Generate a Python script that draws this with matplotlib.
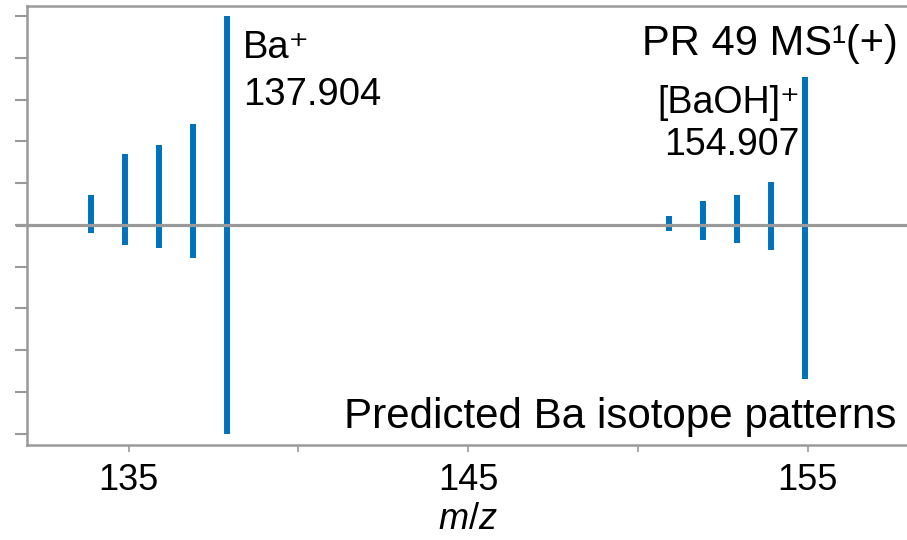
import matplotlib
matplotlib.use("Agg")
import matplotlib.pyplot as plt

plt.rcParams['font.family'] = ['Liberation Sans', 'DejaVu Sans']
plt.rcParams['mathtext.fontset'] = 'custom'
plt.rcParams['mathtext.rm'] = 'Liberation Sans'
plt.rcParams['mathtext.it'] = 'Liberation Sans:italic'
plt.rcParams['mathtext.bf'] = 'Liberation Sans:bold'

# Ba+ cluster: measured (up) and predicted (down, mirrored)
ba_mz = [133.905, 134.906, 135.905, 136.906, 137.905]
ba_meas = [14.4, 33.9, 38.2, 48.2, 100.0]
ba_pred = [3.7, 9.5, 11.2, 16.0, 100.0]

# [BaOH]+ cluster
baoh_mz = [150.907, 151.908, 152.907, 153.908, 154.907]
baoh_meas = [4.5, 11.5, 14.4, 20.7, 70.9]
baoh_pred = [2.9, 7.3, 8.6, 12.1, 73.9]

xticks = [135, 140, 145, 150, 155]
xticklabels = ['135', '', '145', '', '155']
yticks = [-100, -80, -60, -40, -20, 0, 20, 40, 60, 80, 100]

bar_color = '#0072BC'
grey = '#999999'

fig = plt.figure(figsize=(9.07, 5.40), dpi=100)
ax = fig.add_axes([0.0294, 0.1759, 0.9734, 0.813])

mz = ba_mz + baoh_mz
meas = ba_meas + baoh_meas
pred = ba_pred + baoh_pred
ax.vlines(mz, 0, meas, color=bar_color, lw=4.3, zorder=3)
ax.vlines(mz, 0, [-p for p in pred], color=bar_color, lw=4.3, zorder=3)

# baseline, sticks out past the left spine like a tick
ax.axhline(0, xmin=-0.011, xmax=1, color=grey, lw=2.3, clip_on=False, zorder=4)

ax.set_xlim(132, 158)
ax.set_ylim(-105.4, 104.9)
ax.set_xticks(xticks)
ax.set_xticklabels(xticklabels)
ax.set_yticks(yticks)
ax.set_yticklabels([])
ax.tick_params(axis='x', length=5, width=1.2, color=grey, labelsize=26, pad=8)
ax.tick_params(axis='y', length=9, width=1.5, color=grey)
for side in ['left', 'bottom', 'top']:
    ax.spines[side].set_color(grey)
    ax.spines[side].set_linewidth(1.8)
ax.spines['right'].set_visible(False)

ax.set_xlabel(r'$m$/$z$', fontsize=26, labelpad=3)

ax.text(138.38, 80, 'Ba\u207a', fontsize=27.5, ha='left', va='baseline')
ax.text(138.38, 57.5, '137.904', fontsize=27.5, ha='left', va='baseline')
ax.text(154.77, 53.7, '[BaOH]\u207a', fontsize=27, ha='right', va='baseline')
ax.text(154.77, 33.5, '154.907', fontsize=27, ha='right', va='baseline')
ax.text(157.65, 81.5, 'PR 49 MS\u00b9(+)', fontsize=30, ha='right', va='baseline')
ax.text(157.62, -97.3, 'Predicted Ba isotope patterns', fontsize=30.3, ha='right', va='baseline')

fig.savefig('out.png', dpi=100)
